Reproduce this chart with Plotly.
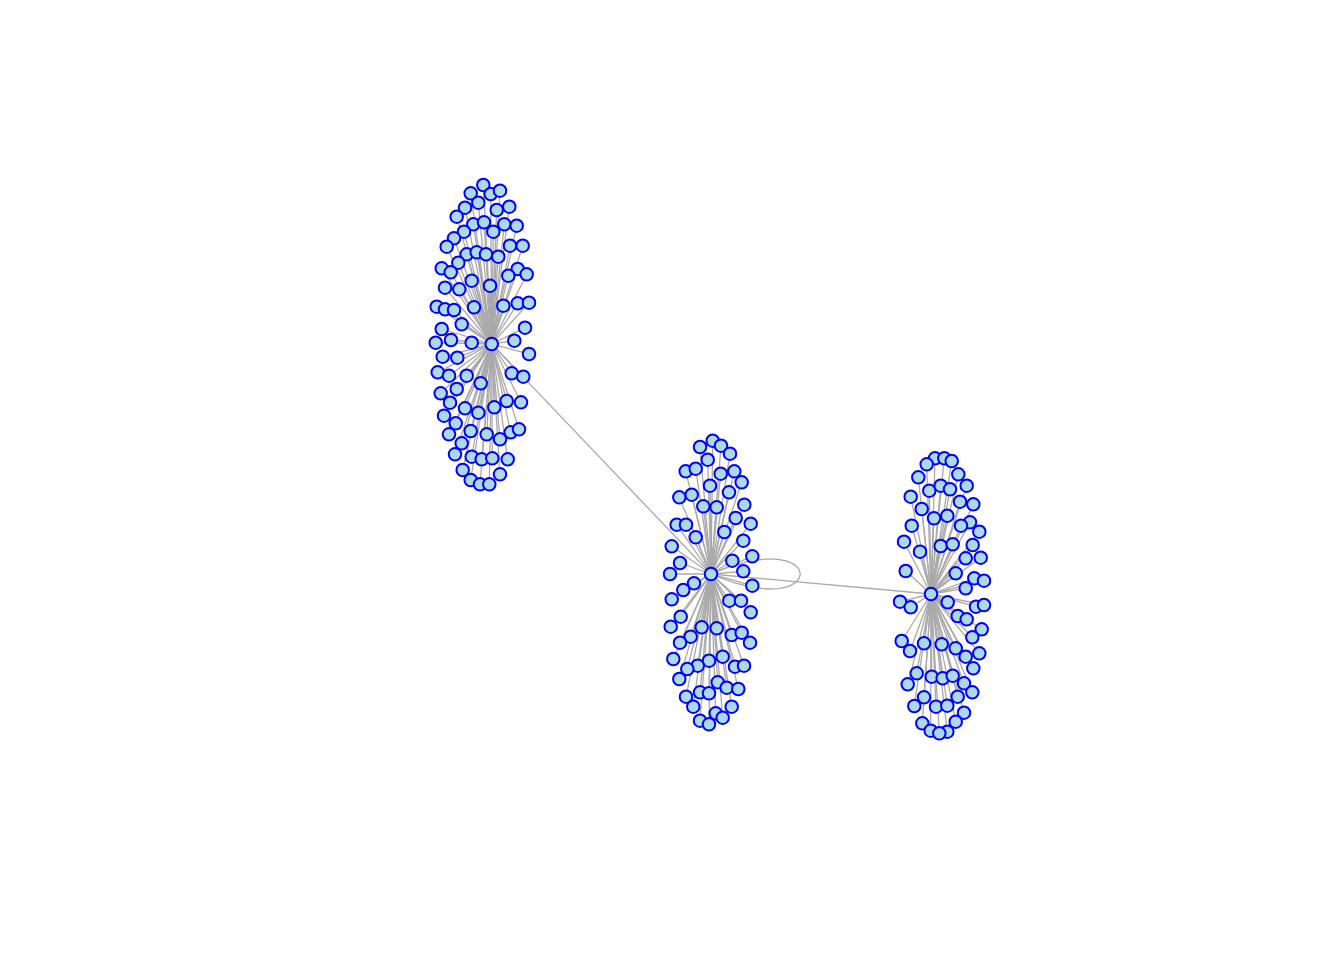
import plotly.graph_objects as go

# node positions (page pixel units, y grows downward)
hub_x = [491.7, 711.0, 931.0]
hub_y = [344.0, 574.0, 594.0]

# leaves of the upper-left star
leaf1_x = [483.3, 470.7, 478.3, 490.7, 500.0, 465.0, 456.7, 496.7, 509.3, 473.3,
           484.0, 464.0, 493.3, 504.3, 516.7, 454.0, 446.7, 466.7, 476.7, 486.0,
           498.3, 510.0, 522.7, 458.3, 441.7, 450.7, 517.7, 508.3, 526.7, 445.0,
           459.3, 471.7, 490.0, 436.7, 445.0, 454.0, 474.0, 503.3, 517.7, 529.0,
           461.7, 525.0, 441.7, 435.7, 451.0, 471.7, 514.3, 529.0, 442.7, 457.3,
           437.7, 449.0, 466.7, 480.7, 511.7, 523.3, 456.7, 440.7, 450.0, 465.0,
           478.3, 494.3, 506.7, 521.0, 444.0, 455.7, 470.7, 486.7, 500.0, 510.7,
           519.0, 449.0, 461.7, 455.0, 471.7, 481.7, 492.3, 507.7, 462.7, 500.0,
           470.7, 480.0, 489.3]
leaf1_y = [185.0, 193.3, 202.7, 194.0, 190.7, 207.7, 216.7, 210.0, 206.7, 224.3,
           222.3, 231.7, 231.7, 224.3, 225.7, 238.3, 246.7, 254.3, 252.3, 254.3,
           256.7, 245.7, 245.7, 262.7, 268.3, 272.3, 269.0, 275.7, 274.3, 287.7,
           289.3, 280.7, 285.7, 306.7, 309.3, 310.0, 307.3, 305.7, 303.3, 302.7,
           324.3, 327.7, 329.0, 342.7, 340.0, 342.7, 340.7, 354.0, 356.7, 357.7,
           372.3, 375.7, 375.7, 383.3, 373.3, 376.7, 389.0, 393.3, 402.7, 408.3,
           412.7, 407.3, 401.0, 402.3, 415.7, 423.3, 431.0, 434.3, 439.3, 432.3,
           429.3, 434.3, 443.3, 454.3, 456.7, 459.3, 458.3, 459.3, 470.0, 474.3,
           480.0, 484.3, 484.3]

# leaves of the middle star
leaf2_x = [712.7, 700.0, 721.0, 730.0, 707.7, 685.7, 695.7, 720.7, 734.3, 741.7,
           710.0, 729.0, 679.3, 691.7, 703.3, 716.7, 744.3, 676.7, 686.0, 735.7,
           750.7, 724.3, 695.7, 743.3, 671.7, 752.3, 680.0, 732.3, 670.0, 743.3,
           694.0, 683.3, 752.3, 671.7, 729.3, 741.0, 750.7, 680.7, 670.7, 701.7,
           716.7, 690.7, 680.0, 731.7, 741.7, 750.0, 673.3, 722.7, 709.0, 697.7,
           687.3, 735.0, 744.0, 679.3, 717.7, 726.7, 738.3, 686.0, 700.0, 709.0,
           693.3, 731.7, 715.7, 722.7, 700.0, 709.0]
leaf2_y = [440.7, 447.0, 445.7, 453.7, 459.7, 471.3, 468.7, 473.7, 471.3, 482.3,
           485.7, 492.3, 497.3, 494.7, 506.3, 507.3, 504.7, 524.7, 524.7, 518.0,
           523.7, 532.0, 537.3, 540.7, 546.3, 556.3, 563.0, 560.7, 574.0, 571.3,
           583.3, 590.0, 585.7, 599.3, 600.7, 600.7, 612.3, 616.7, 626.7, 627.3,
           628.3, 636.7, 642.7, 635.0, 632.7, 642.7, 659.0, 656.7, 660.7, 665.7,
           669.0, 666.7, 665.7, 679.0, 682.3, 687.7, 689.0, 696.7, 692.3, 693.3,
           706.7, 706.7, 713.3, 717.7, 720.7, 724.3]

# leaves of the right star
leaf3_x = [935.0, 944.3, 951.7, 926.7, 958.3, 918.3, 929.3, 940.7, 950.0, 966.7,
           910.7, 960.0, 973.3, 921.7, 934.0, 947.3, 970.0, 911.7, 961.0, 979.3,
           904.0, 940.7, 952.7, 972.7, 920.0, 965.7, 980.7, 905.7, 955.7, 974.3,
           984.0, 965.7, 900.0, 910.7, 947.7, 976.0, 984.0, 957.7, 966.7, 981.7,
           972.3, 901.7, 910.0, 924.0, 941.7, 955.7, 965.7, 979.3, 973.3, 916.7,
           907.7, 931.7, 942.7, 952.7, 964.0, 972.3, 924.0, 957.7, 914.3, 936.0,
           947.3, 964.0, 922.3, 955.7, 930.7, 947.3, 939.3]
leaf3_y = [458.3, 458.3, 461.0, 464.3, 474.3, 477.3, 490.7, 485.7, 489.3, 485.7,
           496.7, 501.7, 504.3, 509.0, 518.3, 515.7, 522.3, 525.7, 525.7, 531.7,
           541.7, 546.0, 544.3, 545.0, 551.7, 558.3, 557.7, 571.0, 573.3, 578.3,
           580.7, 588.3, 601.7, 607.3, 602.3, 606.7, 605.0, 616.0, 619.3, 629.3,
           637.3, 641.0, 651.0, 643.3, 644.3, 648.3, 656.7, 653.3, 668.3, 673.3,
           684.3, 676.7, 678.3, 675.7, 683.3, 692.3, 697.3, 696.7, 706.0, 706.7,
           705.7, 712.7, 723.3, 721.7, 730.7, 731.7, 733.3]

# hub-to-hub links (index pairs into hub_x/hub_y) and self loops
hub_links = [(0, 1), (1, 2)]
loop_hubs = [1]

EDGE = "#A9A9A9"
FILL = "#ADD8E6"
BORDER = "#0000FF"

ex, ey = [], []
for h, (lx, ly) in enumerate([(leaf1_x, leaf1_y), (leaf2_x, leaf2_y), (leaf3_x, leaf3_y)]):
    for x, y in zip(lx, ly):
        ex += [hub_x[h], x, None]
        ey += [hub_y[h], y, None]
for a, b in hub_links:
    ex += [hub_x[a], hub_x[b], None]
    ey += [hub_y[a], hub_y[b], None]

# loop drawn as a cubic bezier leaving and returning to the hub
lx_pts, ly_pts = [], []
for h in loop_hubs:
    x0, y0 = hub_x[h], hub_y[h]
    p1 = (x0 + 119, y0 - 52)
    p2 = (x0 + 119, y0 + 52)
    for i in range(81):
        t = i / 80
        u = 1 - t
        lx_pts.append(u**3 * x0 + 3 * u * u * t * p1[0] + 3 * u * t * t * p2[0] + t**3 * x0)
        ly_pts.append(u**3 * y0 + 3 * u * u * t * p1[1] + 3 * u * t * t * p2[1] + t**3 * y0)
    lx_pts.append(None)
    ly_pts.append(None)

fig = go.Figure()
fig.add_trace(go.Scatter(x=ex, y=ey, mode="lines",
                         line=dict(color=EDGE, width=1.3), hoverinfo="skip"))
fig.add_trace(go.Scatter(x=lx_pts, y=ly_pts, mode="lines",
                         line=dict(color=EDGE, width=1.3), hoverinfo="skip"))

nx = leaf1_x + leaf2_x + leaf3_x + hub_x
ny = leaf1_y + leaf2_y + leaf3_y + hub_y
fig.add_trace(go.Scatter(x=nx, y=ny, mode="markers",
                         marker=dict(size=12.5, color=FILL,
                                     line=dict(color=BORDER, width=2))))

fig.update_layout(
    width=1328, height=944,
    margin=dict(l=0, r=0, t=0, b=0),
    paper_bgcolor="white", plot_bgcolor="white",
    showlegend=False,
    xaxis=dict(range=[8, 1336], visible=False),
    yaxis=dict(range=[952, 8], visible=False),
)
fig.write_html("out.html")
